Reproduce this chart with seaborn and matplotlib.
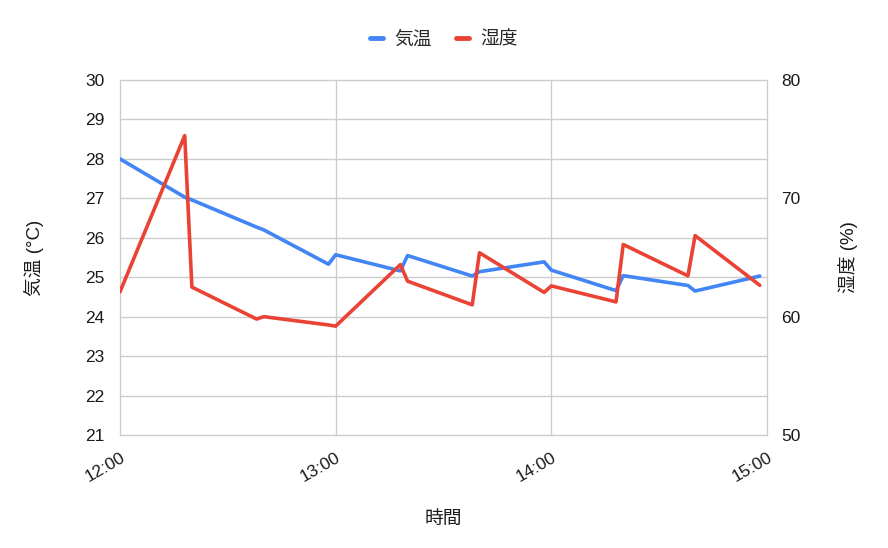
import matplotlib
matplotlib.use("Agg")
import matplotlib.pyplot as plt
import matplotlib.dates as mdates
from matplotlib.lines import Line2D
import seaborn as sns
import pandas as pd

# Data
times = ["12:00", "12:18", "12:20", "12:38", "12:40", "12:58",
         "13:00", "13:18", "13:20", "13:38", "13:40", "13:58",
         "14:00", "14:18", "14:20", "14:38", "14:40", "14:58"]
temperature = [28.0, 27.03, 26.96, 26.27, 26.2, 25.33,
               25.57, 25.16, 25.55, 25.03, 25.14, 25.39,
               25.18, 24.66, 25.04, 24.79, 24.65, 25.03]
humidity = [62.1, 75.3, 62.5, 59.8, 60.0, 59.3,
            59.2, 64.4, 63.0, 61.0, 65.4, 62.05,
            62.6, 61.25, 66.1, 63.45, 66.85, 62.65]

temp_ticks = list(range(21, 31))
hum_ticks = [50, 60, 70, 80]
x_ticks = ["12:00", "13:00", "14:00", "15:00"]

BLUE = "#4285F4"
RED = "#EA4335"
TXT = "#1a1a1a"

sns.set_theme(style="white")
plt.rcParams['font.family'] = ['Liberation Sans', 'Noto Sans CJK JP', 'DejaVu Sans']

df = pd.DataFrame({
    "time": pd.to_datetime(["2024-01-01 " + t for t in times]),
    "temp": temperature,
    "hum": humidity,
})

fig = plt.figure(figsize=(8.88, 5.48), dpi=100)
ax = fig.add_axes([120 / 888, 1 - 435 / 548, (767 - 120) / 888, (435 - 80) / 548])
ax2 = ax.twinx()

sns.lineplot(data=df, x="time", y="temp", ax=ax, color=BLUE, linewidth=2.6)
sns.lineplot(data=df, x="time", y="hum", ax=ax2, color=RED, linewidth=2.6)

xt = pd.to_datetime(["2024-01-01 " + t for t in x_ticks])
ax.set_xlim(xt[0], xt[-1])
ax.set_xticks(xt)
ax.xaxis.set_major_formatter(mdates.DateFormatter('%H:%M'))
ax.set_ylim(21, 30)
ax.set_yticks(temp_ticks)
ax2.set_ylim(50, 80)
ax2.set_yticks(hum_ticks)

ax.grid(True, color="#cccccc", linewidth=1.0, clip_on=False)
ax.set_axisbelow(True)
for a in (ax, ax2):
    for s in a.spines.values():
        s.set_visible(False)
    a.tick_params(length=0, labelsize=12.5, colors=TXT)
ax.tick_params(axis='y', pad=11)
ax2.tick_params(axis='y', pad=10)
for lbl in ax.get_xticklabels():
    lbl.set_rotation(30)
    lbl.set_ha('right')
    lbl.set_rotation_mode('anchor')
ax.tick_params(axis='x', pad=11)

ax.set_xlabel("時間", fontsize=13.5, labelpad=19, color=TXT)
ax.set_ylabel("気温 (°C)", fontsize=13.5, labelpad=30, color=TXT)
ax2.set_ylabel("湿度 (%)", fontsize=13.5, labelpad=27, color=TXT, rotation=90)

handles = [Line2D([], [], color=BLUE, linewidth=3.5),
           Line2D([], [], color=RED, linewidth=3.5)]
fig.legend(handles, ["気温", "湿度"], loc="center", bbox_to_anchor=(0.5, 1 - 40 / 548),
           ncol=2, frameon=False, fontsize=13.5, handlelength=0.7,
           handletextpad=0.6, columnspacing=1.3)

fig.savefig("out.png", dpi=100)
